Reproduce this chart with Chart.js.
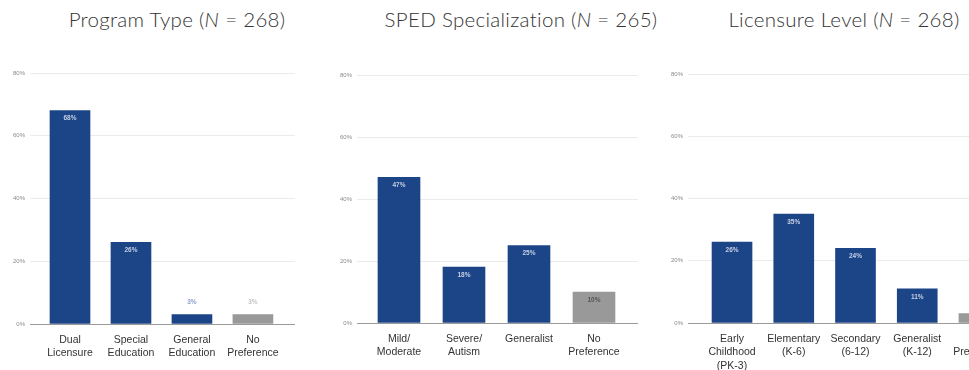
<!DOCTYPE html>
<html>
<head>
<meta charset="utf-8">
<script src="https://cdn.jsdelivr.net/npm/chart.js@4.4.1/dist/chart.umd.min.js"></script>
<style>
	html, body { margin: 0; padding: 0; background: #fff; }
	body { width: 969px; height: 370px; overflow: hidden; position: relative; }
	.panel { position: absolute; top: 0; height: 370px; }
	.title {
		position: absolute; top: 7px; white-space: nowrap; transform: translateX(-50%);
		font-family: 'Lato', 'Noto Sans', sans-serif; font-weight: 300; font-size: 20.5px; color: #333;
		letter-spacing: 0.3px;
	}
</style>
</head>
<body>

<div class="title" style="left:177px">Program Type (<i>N</i> = 268)</div>
<div class="title" style="left:521px">SPED Specialization (<i>N</i> = 265)</div>
<div class="title" style="left:844px">Licensure Level (<i>N</i> = 268)</div>

<div class="panel" style="left:0; width:320px"><canvas id="programChart"></canvas></div>
<div class="panel" style="left:320px; width:330px"><canvas id="spedChart"></canvas></div>
<div class="panel" style="left:650px; width:390px"><canvas id="levelChart"></canvas></div>

<script>
// ---- data ----
const programLabels = [['Dual', 'Licensure'], ['Special', 'Education'], ['General', 'Education'], ['No', 'Preference']];
const programValues = [68, 26, 3, 3];

const spedLabels = [['Mild/', 'Moderate'], ['Severe/', 'Autism'], ['Generalist'], ['No', 'Preference']];
const spedValues = [47, 18, 25, 10];

const levelLabels = [['Early', 'Childhood', '(PK-3)'], ['Elementary', '(K-6)'], ['Secondary', '(6-12)'], ['Generalist', '(K-12)'], ['No', 'Preference']];
const levelValues = [26, 35, 24, 11, 3];

const yTicks = [0, 20, 40, 60, 80];

const BLUE = '#1c4587';
const GREY = '#999999';

const isNoPref = (labels, i) => labels[i].join(' ') === 'No Preference';

// draws the % labels on / above the bars
const barValueLabels = {
	id: 'barValueLabels',
	afterDatasetsDraw(chart) {
		const ctx = chart.ctx;
		const labels = chart.options.plugins.barValueLabels.labels;
		chart.getDatasetMeta(0).data.forEach((bar, i) => {
			const v = chart.data.datasets[0].data[i].y;
			const grey = isNoPref(labels, i);
			let y, color;
			if (v >= 8) {
				y = bar.y + 8;
				color = grey ? '#555555' : '#c5cfe6';
			} else {
				y = bar.y - 12;
				color = grey ? '#c4c4c4' : '#8da2cf';
			}
			ctx.save();
			ctx.font = 'bold 6.5px "Liberation Sans", Arial, sans-serif';
			ctx.fillStyle = color;
			ctx.textAlign = 'center';
			ctx.textBaseline = 'middle';
			ctx.fillText(v + '%', bar.x, y);
			ctx.restore();
		});
	},
};

function makeChart(canvasId, { labels, values, width, left, right, top, bottom, xMin, xMax, barThickness }) {
	const canvas = document.getElementById(canvasId);
	canvas.width = width;
	canvas.height = 370;
	canvas.style.width = width + 'px';
	canvas.style.height = '370px';

	return new Chart(canvas.getContext('2d'), {
		type: 'bar',
		data: {
			datasets: [{
				data: values.map((v, i) => ({ x: i, y: v })),
				backgroundColor: values.map((v, i) => (isNoPref(labels, i) ? GREY : BLUE)),
				barThickness: barThickness,
				borderWidth: 0,
			}],
		},
		options: {
			responsive: false,
			animation: false,
			layout: { padding: { top: top, right: width - right, left: 0, bottom: 0 } },
			plugins: {
				legend: { display: false },
				tooltip: { enabled: false },
				barValueLabels: { labels: labels },
			},
			scales: {
				x: {
					type: 'linear',
					offset: false,
					min: xMin,
					max: xMax,
					afterBuildTicks: (scale) => { scale.ticks = labels.map((l, i) => ({ value: i })); },
					afterFit: (scale) => { scale.height = 370 - bottom; },
					grid: { display: false },
					border: { display: false },
					ticks: {
						autoSkip: false,
						maxRotation: 0,
						padding: 1,
						color: '#333',
						font: { family: '"Liberation Sans", Arial, sans-serif', size: 10.5, lineHeight: 1.3 },
						callback: (value) => labels[value],
					},
				},
				y: {
					min: 0,
					max: 80,
					afterBuildTicks: (scale) => { scale.ticks = yTicks.map((v) => ({ value: v })); },
					afterFit: (scale) => { scale.width = left; },
					grid: {
						drawTicks: false,
						color: (c) => (c.tick && c.tick.value === 0 ? '#9a9a9a' : '#ebebeb'),
						lineWidth: 1,
					},
					border: { display: false },
					ticks: {
						padding: 5,
						color: '#8a8a8a',
						font: { family: '"Liberation Sans", Arial, sans-serif', size: 6 },
						callback: (v) => v + '%',
					},
				},
			},
		},
		plugins: [barValueLabels],
	});
}

makeChart('programChart', {
	labels: programLabels, values: programValues,
	width: 320, left: 30, right: 295, top: 73, bottom: 324,
	xMin: -0.656, xMax: 3.69, barThickness: 40,
});

makeChart('spedChart', {
	labels: spedLabels, values: spedValues,
	width: 330, left: 37, right: 318, top: 75, bottom: 323,
	xMin: -0.646, xMax: 3.677, barThickness: 42,
});

makeChart('levelChart', {
	labels: levelLabels, values: levelValues,
	width: 390, left: 38, right: 373, top: 74, bottom: 323,
	xMin: -0.713, xMax: 4.713, barThickness: 40,
});
</script>
</body>
</html>
